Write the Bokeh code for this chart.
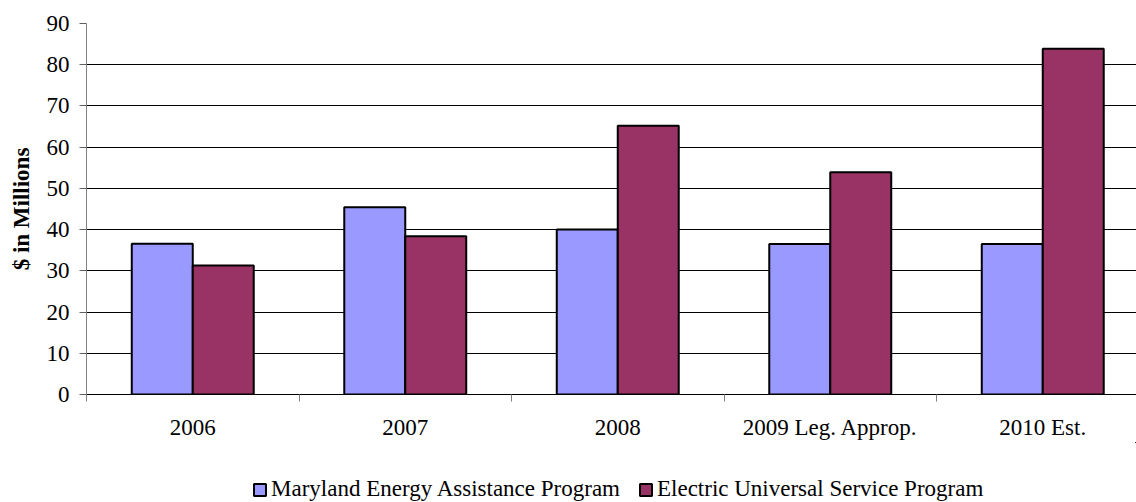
from bokeh.plotting import figure
from bokeh.layouts import column
from bokeh.models import (ColumnDataSource, Range1d, FixedTicker, Legend, LegendItem)
from bokeh.transform import dodge
from bokeh.embed import file_html
from bokeh.resources import INLINE

categories = ["2006", "2007", "2008", "2009 Leg. Approp.", "2010 Est."]
meap = [36.6, 45.4, 40.0, 36.5, 36.5]
eusp = [31.3, 38.4, 65.2, 53.9, 83.9]
series_names = ["Maryland Energy Assistance Program", "Electric Universal Service Program"]
series_colors = ["#9999FF", "#993366"]
y_ticks = [0, 10, 20, 30, 40, 50, 60, 70, 80, 90]

FONT = "Liberation Serif"
FS = "23px"

xpos = [i + 0.5 for i in range(len(categories))]
source = ColumnDataSource(data=dict(x=xpos, meap=meap, eusp=eusp, cat=categories))

p = figure(width=1136, height=442, output_backend="svg", toolbar_location=None,
           x_range=Range1d(0, 1050 / 212.5), y_range=Range1d(0, 90),
           min_border_left=86, min_border_right=0, min_border_top=23, min_border_bottom=48)
p.outline_line_color = None
p.background_fill_color = "white"
p.border_fill_color = "white"

bw = 0.287
r1 = p.vbar(x=dodge("x", -bw / 2, range=p.x_range), top="meap", width=bw, source=source,
            fill_color=series_colors[0], line_color="black", line_width=2)
r2 = p.vbar(x=dodge("x", bw / 2, range=p.x_range), top="eusp", width=bw, source=source,
            fill_color=series_colors[1], line_color="black", line_width=2)

# x axis: labels at category centres, ticks at category boundaries
xa = p.xaxis[0]
xa.ticker = FixedTicker(ticks=xpos, minor_ticks=list(range(len(categories) + 1)))
xa.major_label_overrides = {x: c for x, c in zip(xpos, categories)}
xa.major_tick_in = 0
xa.major_tick_out = 0
xa.minor_tick_in = 0
xa.minor_tick_out = 7
xa.minor_tick_line_color = "#808080"
xa.axis_line_color = "black"
xa.major_label_text_font = FONT
xa.major_label_text_font_size = FS
xa.major_label_text_color = "black"
xa.major_label_standoff = 13

ya = p.yaxis[0]
ya.ticker = FixedTicker(ticks=y_ticks)
ya.minor_tick_line_color = None
ya.major_tick_in = 0
ya.major_tick_out = 7
ya.major_tick_line_color = "#606060"
ya.axis_line_color = "#808080"
ya.major_label_text_font = FONT
ya.major_label_text_font_size = FS
ya.major_label_text_color = "black"
ya.major_label_standoff = 10
ya.axis_label = "$ in Millions"
ya.axis_label_text_font = FONT
ya.axis_label_text_font_size = FS
ya.axis_label_text_font_style = "bold"
ya.axis_label_text_color = "black"
ya.axis_label_standoff = 10

p.xgrid.grid_line_color = None
p.ygrid.ticker = FixedTicker(ticks=y_ticks)
p.ygrid.grid_line_color = "black"
p.ygrid.grid_line_width = 1

# legend strip below the chart (its bars lie outside its visible range; only the legend shows)
pl = figure(width=1136, height=60, output_backend="svg", toolbar_location=None,
            x_axis_location=None, y_axis_location=None,
            x_range=Range1d(-3, -2), y_range=Range1d(-3, -2),
            min_border_left=0, min_border_right=0, min_border_top=0, min_border_bottom=0)
pl.grid.visible = False
pl.outline_line_color = None
pl.background_fill_color = "white"
pl.border_fill_color = "white"
l1 = pl.vbar(x="x", top="meap", bottom="meap", width=bw, source=source,
             fill_color=series_colors[0], line_color="black", line_width=2)
l2 = pl.vbar(x="x", top="eusp", bottom="eusp", width=bw, source=source,
             fill_color=series_colors[1], line_color="black", line_width=2)
# the column aligns this strip's frame with the chart's frame (86px from the left)
legend = Legend(items=[LegendItem(label=series_names[0], renderers=[l1]),
                       LegendItem(label=series_names[1], renderers=[l2])],
                location=(166, 0), orientation="horizontal",
                glyph_width=15, glyph_height=15, label_standoff=4, spacing=18,
                padding=0, margin=0, border_line_alpha=0, background_fill_alpha=0,
                label_text_font=FONT, label_text_font_size=FS, label_text_color="black")
pl.add_layout(legend, "center")

layout = column(p, pl, spacing=0)
open("out.html", "w").write(file_html(layout, INLINE))
